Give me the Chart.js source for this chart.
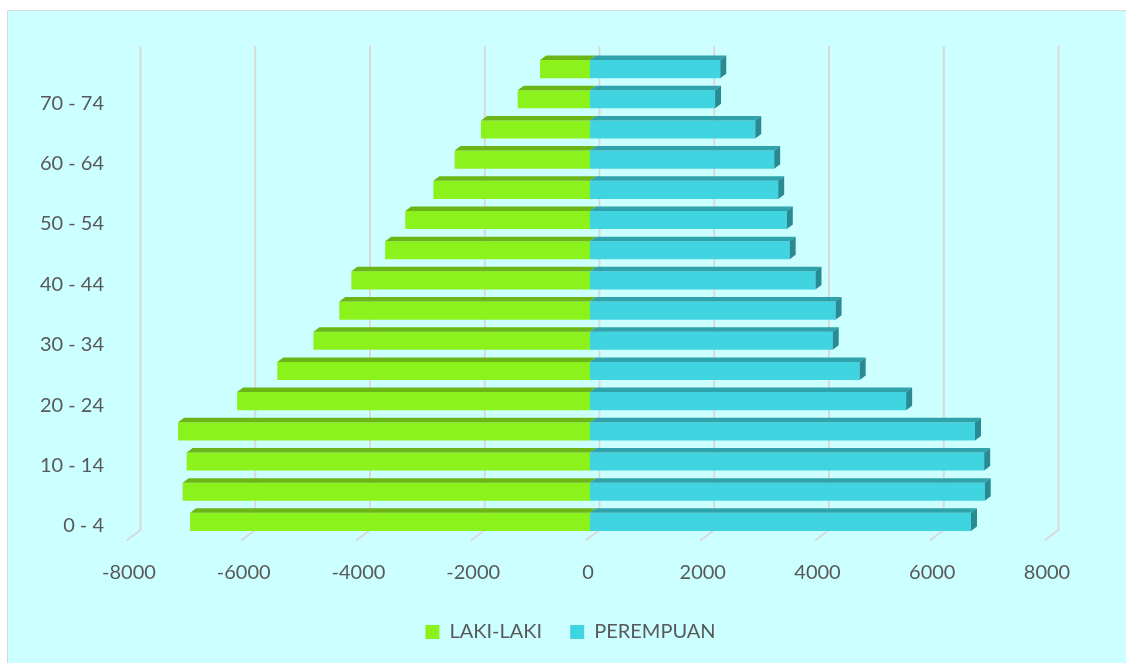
<!DOCTYPE html>
<html>
<head>
<meta charset="utf-8">
<script src="https://cdn.jsdelivr.net/npm/chart.js@4.4.1/dist/chart.umd.min.js"></script>
<style>
    body { margin: 0; background: #ffffff; overflow: hidden; }
    #frame {
        position: absolute; left: 7px; top: 10px;
        width: 1130px; height: 670px;
        border: 1px solid #d9d9d9; border-right: none;
        background: #ccffff;
    }
    #wrap { position: absolute; left: 0; top: 0; width: 1113px; height: 652px; }
</style>
</head>
<body>
<div id="frame"><div id="wrap"><canvas id="pyramid"></canvas></div></div>
<script>
// Age groups, youngest first
const ageGroups = ['0 - 4', '5 - 9', '10 - 14', '15 - 19', '20 - 24', '25 - 29', '30 - 34', '35 - 39',
                   '40 - 44', '45 - 49', '50 - 54', '55 - 59', '60 - 64', '65 - 69', '70 - 74', '75+'];
// Males are plotted to the left, so the values are negative
const lakiLaki = [-6970, -7100, -7030, -7180, -6150, -5450, -4820, -4370,
                  -4160, -3570, -3220, -2730, -2360, -1900, -1260, -870];
const perempuan = [6640, 6880, 6870, 6710, 5510, 4700, 4230, 4280,
                   3930, 3480, 3430, 3280, 3210, 2880, 2180, 2270];
const xTicks = [-8000, -6000, -4000, -2000, 0, 2000, 4000, 6000, 8000];

const GREEN = '#8cf21c', GREEN_TOP = '#6bb516';
const CYAN = '#3fd4e0', CYAN_TOP = '#2fa2ab', CYAN_SIDE = '#288a92';
const TEXT = '#595959';

// depth of the bars and of the back wall
const BAR_DX = 6, BAR_DY = 4.5;
const WALL_DX = 14, WALL_DY = 10.5;

// back-wall gridlines with the little floor feet
const wallGrid = {
    id: 'wallGrid',
    beforeDatasetsDraw(chart) {
        const ctx = chart.ctx, x = chart.scales.x, area = chart.chartArea;
        ctx.save();
        ctx.strokeStyle = '#d9d9d9';
        ctx.lineWidth = 2;
        xTicks.forEach(v => {
            const bx = x.getPixelForValue(v) + 9.5;
            const top = area.top - 8, bottom = area.bottom - 7;
            ctx.beginPath();
            ctx.moveTo(bx, top);
            ctx.lineTo(bx, bottom);
            ctx.lineTo(bx - WALL_DX, bottom + WALL_DY);
            ctx.stroke();
        });
        ctx.restore();
    }
};

// top and side faces so the bars look like boxes
const barFaces = {
    id: 'barFaces',
    afterDatasetsDraw(chart) {
        const ctx = chart.ctx;
        ctx.save();
        chart.data.datasets.forEach((ds, di) => {
            const meta = chart.getDatasetMeta(di);
            meta.data.forEach(bar => {
                const p = bar.getProps(['x', 'y', 'base', 'height'], true);
                const left = Math.min(p.x, p.base), right = Math.max(p.x, p.base);
                const top = p.y - p.height / 2, bottom = p.y + p.height / 2;
                ctx.fillStyle = di === 0 ? GREEN_TOP : CYAN_TOP;
                ctx.beginPath();
                ctx.moveTo(left, top);
                ctx.lineTo(left + BAR_DX, top - BAR_DY);
                ctx.lineTo(right + BAR_DX, top - BAR_DY);
                ctx.lineTo(right, top);
                ctx.closePath();
                ctx.fill();
                if (di === 1) {
                    ctx.fillStyle = CYAN_SIDE;
                    ctx.beginPath();
                    ctx.moveTo(right, top);
                    ctx.lineTo(right + BAR_DX, top - BAR_DY);
                    ctx.lineTo(right + BAR_DX, bottom - BAR_DY);
                    ctx.lineTo(right, bottom);
                    ctx.closePath();
                    ctx.fill();
                }
            });
        });
        ctx.restore();
    }
};

// nudge the legend a bit to the right of the plot centre
const legendShift = {
    id: 'legendShift',
    afterLayout(chart) {
        const lg = chart.legend;
        if (!lg) return;
        lg.left += 42;
        lg.right += 42;
    }
};

new Chart(document.getElementById('pyramid'), {
    type: 'bar',
    data: {
        labels: ageGroups,
        datasets: [
            { label: 'LAKI-LAKI', data: lakiLaki, backgroundColor: GREEN,
              barPercentage: 0.6, categoryPercentage: 1 },
            { label: 'PEREMPUAN', data: perempuan, backgroundColor: CYAN,
              barPercentage: 0.6, categoryPercentage: 1 }
        ]
    },
    options: {
        indexAxis: 'y',
        responsive: true,
        maintainAspectRatio: false,
        animation: false,
        layout: { padding: { top: 43, right: 72, bottom: 11, left: 0 } },
        scales: {
            x: {
                min: -8000, max: 8000,
                afterBuildTicks: (scale) => { scale.ticks = xTicks.map(v => ({ value: v })); },
                afterFit: (scale) => { scale.height = 57; },
                grid: { display: false, drawTicks: false },
                border: { display: false },
                ticks: {
                    color: TEXT, font: { family: 'Lato', size: 20 }, padding: 24, labelOffset: -2,
                    callback: (v) => String(v)
                }
            },
            y: {
                stacked: true,
                reverse: true,
                afterFit: (scale) => { scale.width = 123; },
                grid: { display: false, drawTicks: false },
                border: { display: false },
                ticks: {
                    color: TEXT, font: { family: 'Lato', size: 20 }, padding: 27, labelOffset: 4,
                    autoSkip: false,
                    callback: function (val, i) { return i % 2 === 0 ? this.getLabelForValue(val) : ''; }
                }
            }
        },
        plugins: {
            legend: {
                position: 'bottom',
                labels: {
                    color: TEXT, font: { family: 'Lato', size: 20 },
                    boxWidth: 14, boxHeight: 14, padding: 28
                }
            },
            tooltip: { enabled: false }
        }
    },
    plugins: [wallGrid, barFaces, legendShift]
});
</script>
</body>
</html>
